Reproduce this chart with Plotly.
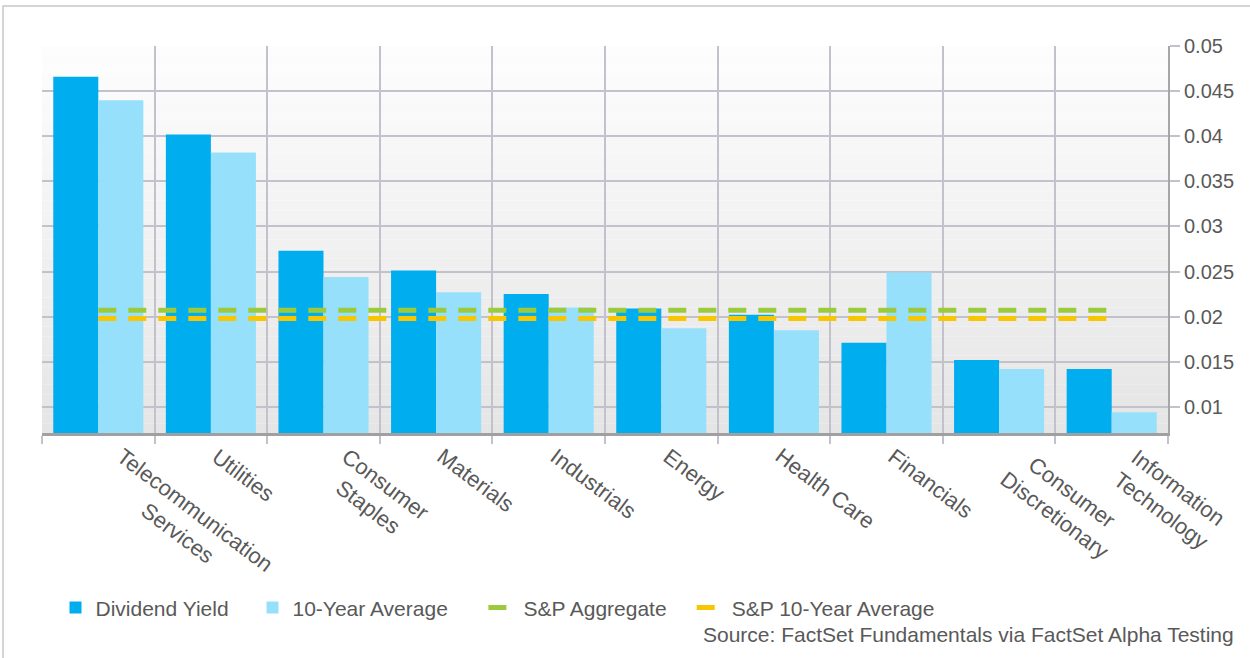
import plotly.graph_objects as go

categories = ["Telecommunication<br>Services", "Utilities", "Consumer<br>Staples", "Materials",
              "Industrials", "Energy", "Health Care", "Financials",
              "Consumer<br>Discretionary", "Information<br>Technology"]
dividend_yield = [0.0466, 0.0402, 0.0273, 0.0251, 0.0225, 0.0209, 0.0202, 0.0171, 0.0152, 0.0142]
ten_year_avg = [0.0440, 0.0382, 0.0244, 0.0227, 0.0210, 0.0187, 0.0185, 0.0249, 0.0142, 0.0094]
sp_aggregate = [0.0207] * len(categories)
sp_ten_year = [0.0198] * len(categories)
y_ticks = [0.01, 0.015, 0.02, 0.025, 0.03, 0.035, 0.04, 0.045, 0.05]
source_text = "Source: FactSet Fundamentals via FactSet Alpha Testing"

TXT = "#595959"
GRID = "#c3c1cb"
FONT = "Liberation Sans, Arial, sans-serif"

fig = go.Figure()
fig.add_trace(go.Bar(x=categories, y=dividend_yield, name="Dividend Yield",
                     marker=dict(color="#00adef", line=dict(width=0))))
fig.add_trace(go.Bar(x=categories, y=ten_year_avg, name="10-Year Average",
                     marker=dict(color="#97e0fc", line=dict(width=0))))
fig.add_trace(go.Scatter(x=categories, y=sp_aggregate, name="S&P Aggregate", mode="lines",
                         line=dict(color="#9bcb3c", width=5, dash="18px,12px"), legend="legend3"))
fig.add_trace(go.Scatter(x=categories, y=sp_ten_year, name="S&P 10-Year Average", mode="lines",
                         line=dict(color="#f7c600", width=5, dash="18px,12px"), legend="legend2"))

# gradient background (white at top to light grey at bottom)
shapes = []
n = 40
for i in range(n):
    t = i / (n - 1)
    c = int(round(253 - t * (253 - 229)))
    shapes.append(dict(type="rect", xref="paper", yref="paper",
                       x0=0, x1=1, y0=1 - (i + 1) / n, y1=1 - i / n,
                       fillcolor=f"rgb({c},{c},{c})", line=dict(width=0), layer="below"))
# outer chart frame
shapes.append(dict(type="rect", xref="paper", yref="paper",
                   x0=-0.0346, x1=1.2, y0=-2.0, y1=1.1034,
                   line=dict(color="#c8c8c8", width=1.5), fillcolor="rgba(0,0,0,0)", layer="below"))

# rotated, centre-aligned category labels
annotations = [dict(text=c, x=c, xref="x", yref="paper", y=0, xanchor="left", yanchor="top",
                    xshift=-6, yshift=-8, textangle=37, align="center", showarrow=False,
                    font=dict(size=22, color=TXT, family=FONT))
               for c in categories]
annotations.append(dict(text=source_text, xref="paper", yref="paper", x=1.06, y=-0.52,
                        xanchor="right", yanchor="middle", showarrow=False,
                        font=dict(size=21, color=TXT)))

legend_style = dict(orientation="h", yanchor="middle", xanchor="left", y=-0.452,
                    font=dict(size=21, color=TXT), bgcolor="rgba(0,0,0,0)", itemwidth=30)

fig.update_layout(
    width=1250, height=658,
    margin=dict(l=42, r=82, t=46, b=225),
    paper_bgcolor="white", plot_bgcolor="rgba(0,0,0,0)",
    font=dict(family=FONT, color=TXT, size=20),
    barmode="group", bargap=0.2, bargroupgap=0,
    shapes=shapes,
    showlegend=True,
    legend=dict(x=0.012, entrywidth=152, **legend_style),
    legend3=dict(x=0.392, **legend_style),
    legend2=dict(x=0.577, **legend_style),
    annotations=annotations,
)
fig.update_xaxes(type="category", range=[-0.5, len(categories) - 0.5],
                 tickson="boundaries", showgrid=True, gridcolor=GRID, gridwidth=2,
                 ticks="outside", ticklen=8, tickwidth=2, tickcolor=GRID,
                 showline=True, linecolor="#a0a0a0", linewidth=3,
                 showticklabels=False)
fig.update_yaxes(side="right", range=[0.0071, 0.05], tickvals=y_ticks,
                 ticktext=[f"{v:g}" for v in y_ticks],
                 showgrid=True, gridcolor=GRID, gridwidth=2,
                 ticks="outside", ticklen=10, tickwidth=2, tickcolor=GRID,
                 showline=True, linecolor="#a6a6a6", linewidth=2,
                 zeroline=False, tickfont=dict(size=20, color=TXT))

fig.write_html("out.html", config={"displayModeBar": False},
               post_script="document.body.style.margin='0';")
